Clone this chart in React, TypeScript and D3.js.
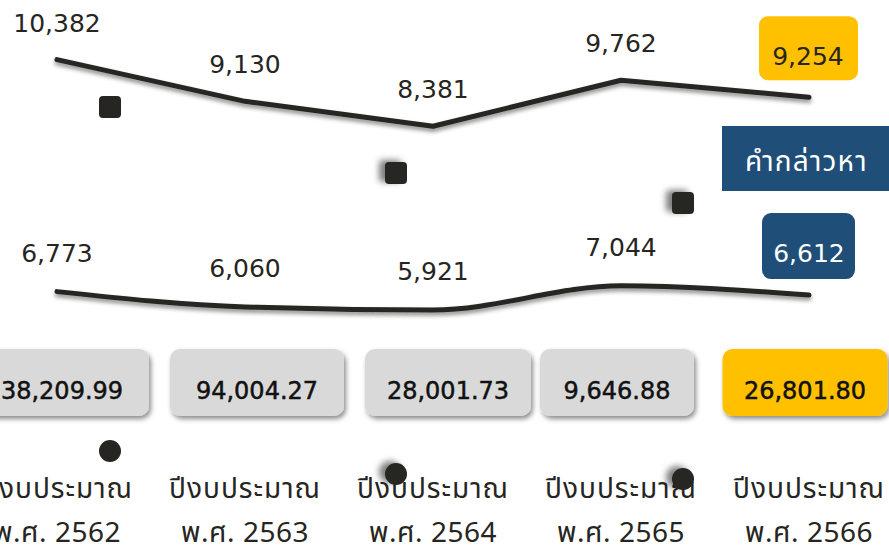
import React from "react";
import * as d3 from "d3";

const categories = ["2562", "2563", "2564", "2565", "2566"];
const seriesTop = [10382, 9130, 8381, 9762, 9254];
const seriesBottom = [6773, 6060, 5921, 7044, 6612];
const budgets = ["38,209.99", "94,004.27", "28,001.73", "9,646.88", "26,801.80"];
const yearLine1 = "ปีงบประมาณ";
const yearPrefix = "พ.ศ. ";
const legendLabel = "คำกล่าวหา";
// decorative markers: category index and offset from category centre
const markerCats = [0, 2, 3];
const markerOffsets = [53, -37, 62];
const squareY = [107, 173, 203];
const dotY = [451, 474, 479];

const W = 889;
const H = 547;
const NUM_FONT = "'DejaVu Sans', sans-serif";
const THAI_FONT = "'Noto Sans Thai', 'Noto Sans Thai UI', 'Noto Sans', sans-serif";
const DARK = "#262521";
const YELLOW = "#FFC000";
const BLUE = "#1F4E79";
const GRAY = "#D9D9D9";

export default function App() {
  const x = d3.scalePoint<string>().domain(categories).range([57, 809]);
  const yTop = d3.scaleLinear().domain([8000, 11000]).range([139, 39]);
  const yBot = d3.scaleLinear().domain([5500, 7500]).range([319, 276]);

  const lineTop = d3
    .line<number>()
    .x((_, i) => x(categories[i])!)
    .y((d) => yTop(d))
    .curve(d3.curveLinear);
  const lineBot = d3
    .line<number>()
    .x((_, i) => x(categories[i])!)
    .y((d) => yBot(d))
    .curve(d3.curveMonotoneX);
  const fmt = d3.format(",");
  const last = categories.length - 1;

  const boxCx = [62, 257, 448, 617, 805];
  const boxW = [174, 174, 166, 154, 165];

  return (
    <svg width={W} height={H} style={{ position: "absolute", left: 0, top: 0, background: "#fff" }}>
      <defs>
        <filter id="lineShadow" x="-10%" y="-50%" width="120%" height="200%">
          <feDropShadow dx="0" dy="3" stdDeviation="2" floodColor="#000" floodOpacity="0.45" />
        </filter>
        <filter id="boxShadow" x="-10%" y="-20%" width="125%" height="150%">
          <feDropShadow dx="2" dy="3" stdDeviation="2.5" floodColor="#000" floodOpacity="0.45" />
        </filter>
        <filter id="markShadow" x="-100%" y="-100%" width="300%" height="300%">
          <feDropShadow dx="-6" dy="-2" stdDeviation="3" floodColor="#000" floodOpacity="0.5" />
        </filter>
      </defs>

      {/* lines */}
      <path d={lineTop(seriesTop)!} fill="none" stroke={DARK} strokeWidth={5} strokeLinecap="round" strokeLinejoin="round" filter="url(#lineShadow)" />
      <path d={lineBot(seriesBottom)!} fill="none" stroke={DARK} strokeWidth={5} strokeLinecap="round" filter="url(#lineShadow)" />

      {/* top labels */}
      {seriesTop.map((v, i) =>
        i === last ? (
          <g key={i}>
            <rect x={x(categories[i])! - 50} y={yTop(v) - 81} width={99} height={64} rx={9} fill={YELLOW} />
            <text x={x(categories[i])! - 1} y={yTop(v) - 32} textAnchor="middle" fontFamily={NUM_FONT} fontSize={25} fill={DARK}>{fmt(v)}</text>
          </g>
        ) : (
          <text key={i} x={x(categories[i])!} y={yTop(v) - 28} textAnchor="middle" fontFamily={NUM_FONT} fontSize={25} fill={DARK}>{fmt(v)}</text>
        )
      )}

      {/* bottom labels */}
      {seriesBottom.map((v, i) =>
        i === last ? (
          <g key={i}>
            <rect x={x(categories[i])! - 47} y={yBot(v) - 82} width={93} height={66} rx={9} fill={BLUE} />
            <text x={x(categories[i])!} y={yBot(v) - 33} textAnchor="middle" fontFamily={NUM_FONT} fontSize={25} fill="#fff">{fmt(v)}</text>
          </g>
        ) : (
          <text key={i} x={x(categories[i])!} y={yBot(v) - 30} textAnchor="middle" fontFamily={NUM_FONT} fontSize={25} fill={DARK}>{fmt(v)}</text>
        )
      )}

      {/* legend box */}
      <rect x={722} y={126} width={180} height={65} fill={BLUE} />
      <text x={745} y={171} fontFamily={THAI_FONT} fontSize={28} letterSpacing={1.2} fill="#fff">{legendLabel}</text>

      {/* squares */}
      {markerOffsets.map((o, i) => (
        <rect key={"s" + i} x={x(categories[markerCats[i]])! + o - 11} y={squareY[i] - 11} width={22} height={22} rx={4} fill={DARK} filter={i === 0 ? undefined : "url(#markShadow)"} />
      ))}

      {/* budget boxes */}
      {budgets.map((b, i) => (
        <g key={i}>
          <rect x={boxCx[i] - boxW[i] / 2} y={349} width={boxW[i]} height={67} rx={10} fill={i === last ? YELLOW : GRAY} filter="url(#boxShadow)" />
          <text x={boxCx[i]} y={399} textAnchor="middle" fontFamily={NUM_FONT} fontSize={24} fill="#111" stroke="#111" strokeWidth={0.5}>{b}</text>
        </g>
      ))}

      {/* year labels */}
      {categories.map((c, i) => (
        <g key={i}>
          <text x={x(c)!} y={498} textAnchor="middle" fontFamily={THAI_FONT} fontSize={28} letterSpacing={1} fill={DARK}>{yearLine1}</text>
          <text x={x(c)!} y={542} textAnchor="middle" fontFamily={THAI_FONT} fontSize={28} letterSpacing={0.5} fill={DARK}>{yearPrefix + c}</text>
        </g>
      ))}

      {/* dots */}
      {markerOffsets.map((o, i) => (
        <circle key={"d" + i} cx={x(categories[markerCats[i]])! + o} cy={dotY[i]} r={11} fill={DARK} filter={i === 0 ? undefined : "url(#markShadow)"} />
      ))}
    </svg>
  );
}
